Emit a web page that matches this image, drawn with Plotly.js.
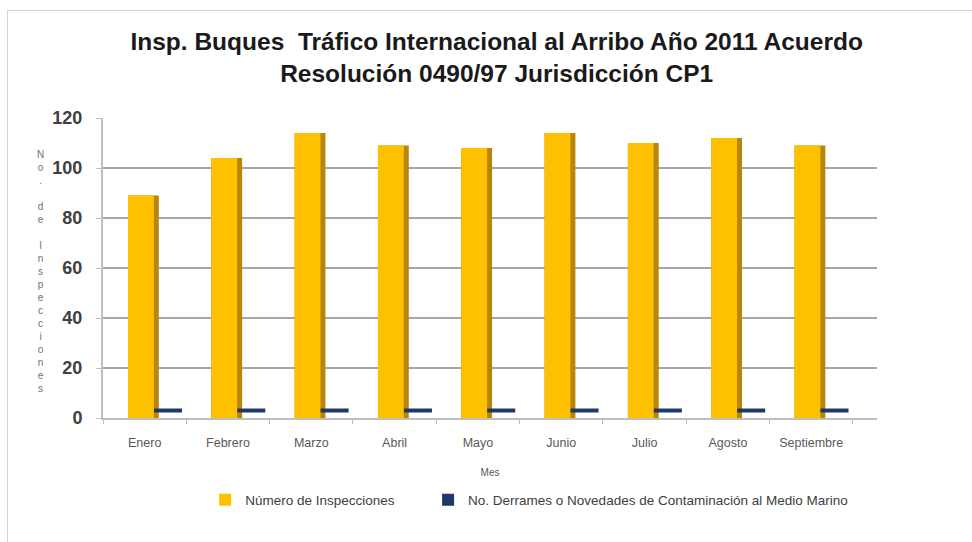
<!DOCTYPE html>
<html>
<head>
<meta charset="utf-8">
<script src="https://cdn.plot.ly/plotly-3.0.1.min.js"></script>
<style>
  html, body { margin: 0; padding: 0; background: #ffffff; }
  #chart { width: 972px; height: 542px; }
  #frame { position: absolute; left: 7px; top: 10px; width: 990px; height: 560px;
           border: 1px solid #d4d4d4; pointer-events: none; }
</style>
</head>
<body>
<div id="chart"></div>
<div id="frame"></div>
<script>
// ---- data ----
const months = ["Enero", "Febrero", "Marzo", "Abril", "Mayo", "Junio", "Julio", "Agosto", "Septiembre"];
const inspecciones = [89, 104, 114, 109, 108, 114, 110, 112, 109];
const derrames = [0, 0, 0, 0, 0, 0, 0, 0, 0];
const seriesNames = ["Número de Inspecciones", "No. Derrames o Novedades de Contaminación al Medio Marino"];
const yTickVals = [0, 20, 40, 60, 80, 100, 120];
const chartTitle = "<b>Insp. Buques  Tráfico Internacional al Arribo Año 2011 Acuerdo<br>Resolución 0490/97 Jurisdicción CP1</b>";
const xTitle = "Mes";
const yTitle = "No. de Inspecciones";

const gold = "#FFC000", goldSide = "#B8860B", navy = "#1F3864";

const traces = [
  { // side shading of the 3D columns
    type: "bar", x: months, y: inspecciones, offset: -0.2, width: 0.37,
    marker: { color: goldSide }, showlegend: false, hoverinfo: "skip"
  },
  {
    type: "bar", name: seriesNames[0], x: months, y: inspecciones, offset: -0.2, width: 0.31,
    marker: { color: gold }, legend: "legend"
  },
  {
    type: "bar", name: seriesNames[1], x: months, y: derrames, offset: 0.14, width: 0.27,
    marker: { color: navy }, legendgroup: "d", legend: "legend2"
  },
  { // flat slabs for the zero-valued series
    type: "scatter", mode: "markers", x: months, y: derrames, xaxis: "x2", yaxis: "y2",
    marker: { symbol: "line-ew", size: 20, line: { width: 4, color: navy }, color: navy },
    showlegend: false, legendgroup: "d", hoverinfo: "skip"
  }
];

const yStack = yTitle.split("").join("<br>");

const layout = {
  width: 972, height: 542,
  margin: { l: 103, r: 95, t: 118, b: 124 },
  paper_bgcolor: "rgba(0,0,0,0)", plot_bgcolor: "rgba(0,0,0,0)",
  barmode: "overlay",
  font: { family: "Liberation Sans, Arial, sans-serif", color: "#404040" },
  title: {
    text: chartTitle, x: 0.511, xanchor: "center", yref: "container", y: 0.907, yanchor: "top",
    font: { size: 24.5, color: "#1a1a1a", family: "Liberation Sans, Arial, sans-serif" }
  },
  xaxis: {
    type: "category", range: [-0.5, 8.79], showgrid: false,
    showline: true, linecolor: "#bfbfbf", linewidth: 2,
    ticks: "outside", tickson: "boundaries", ticklen: 4, tickcolor: "#bfbfbf",
    tickfont: { size: 12.5, color: "#595959" }, ticklabelstandoff: 12,
    title: { text: xTitle, font: { size: 10, color: "#595959" }, standoff: 20 }
  },
  xaxis2: { type: "category", overlaying: "x", range: [-0.78, 8.51], visible: false },
  yaxis: {
    range: [0, 120], tickvals: yTickVals, showgrid: true, gridcolor: "#a6a6a6", gridwidth: 2,
    showline: true, linecolor: "#bfbfbf", linewidth: 2, zeroline: false,
    ticks: "outside", ticklen: 5, tickcolor: "#bfbfbf", ticklabelstandoff: 10,
    tickfont: { size: 18, color: "#404040", family: "Liberation Sans, Arial, sans-serif", weight: "bold" }
  },
  yaxis2: { overlaying: "y", range: [-3, 117], visible: false },
  legend: {
    orientation: "h", x: 0.132, xanchor: "left", y: -0.273, yanchor: "middle",
    font: { size: 13.5, color: "#404040" }, itemwidth: 30, bgcolor: "rgba(0,0,0,0)"
  },
  legend2: {
    orientation: "h", x: 0.42, xanchor: "left", y: -0.273, yanchor: "middle",
    font: { size: 13.5, color: "#404040" }, itemwidth: 30, bgcolor: "rgba(0,0,0,0)"
  },
  annotations: [{
    text: yStack, xref: "paper", yref: "paper", x: -0.081, y: 0.49, showarrow: false,
    font: { size: 10, color: "#707070" }, xanchor: "center", yanchor: "middle"
  }]
};

Plotly.newPlot("chart", traces, layout, { displayModeBar: false, staticPlot: true });
</script>
</body>
</html>
